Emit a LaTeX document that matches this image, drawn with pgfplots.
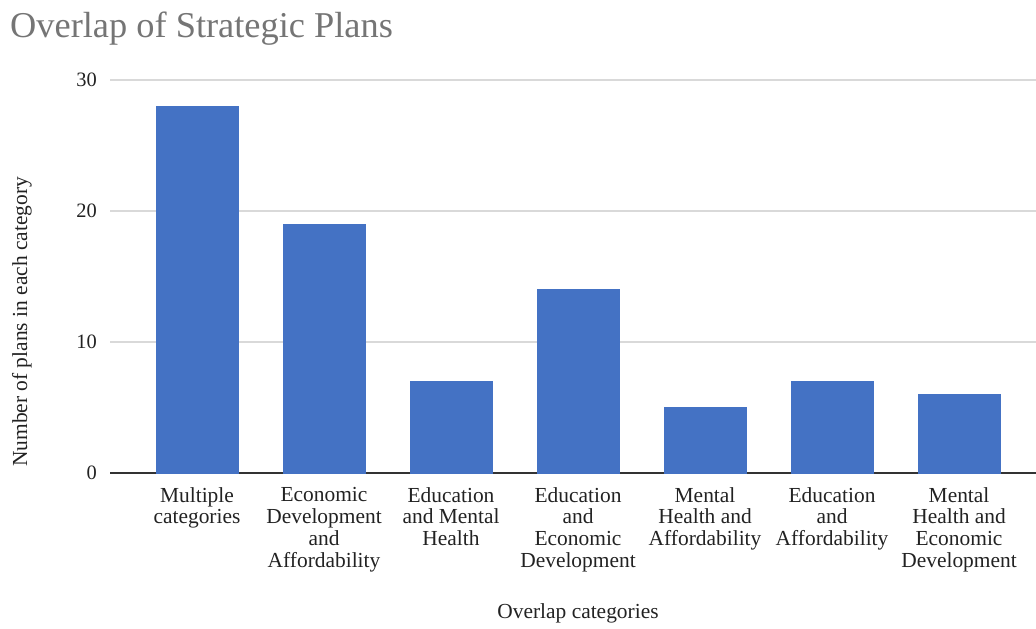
\documentclass[border=0pt]{standalone}
\usepackage{pgfplots}
\pgfplotsset{compat=1.18}
\usepackage{fontspec}
\setmainfont{Liberation Serif}
\definecolor{barblue}{HTML}{4472C4}
\definecolor{titlegray}{HTML}{757575}
\definecolor{gridgray}{HTML}{D9D9D9}
\definecolor{txt}{HTML}{222222}
\begin{document}
\begin{tikzpicture}[x=1bp,y=1bp]
\path[use as bounding box] (0,0) rectangle (1036,629);
\node[anchor=base west, text=titlegray, inner sep=0pt, font=\fontsize{36.5}{40}\selectfont] at (10,591) {Overlap of Strategic Plans};
\begin{axis}[
  at={(110bp,156bp)}, anchor=south west,
  scale only axis,
  width=926bp, height=393bp,
  xmin=-0.685, xmax=6.606,
  ymin=0, ymax=30,
  ytick={0,10,20,30},
  xtick={0,1,2,3,4,5,6},
  xticklabels={
    {Multiple\\categories},
    {Economic\\Development\\and\\Affordability},
    {Education\\and Mental\\Health},
    {Education\\and\\Economic\\Development},
    {Mental\\Health and\\Affordability},
    {Education\\and\\Affordability},
    {Mental\\Health and\\Economic\\Development}},
  xticklabel style={align=center, anchor=north, inner sep=0pt, yshift=-14bp, text=txt, font=\fontsize{21.5}{22}\selectfont},
  yticklabel style={text=txt, anchor=east, inner sep=0pt, font=\fontsize{20.5}{22}\selectfont, xshift=-13bp},
  /pgf/number format/assume math mode=true,
  major tick length=0pt,
  axis line style={draw=none},
  ymajorgrids,
  grid style={gridgray, line width=1.3bp},
  extra y ticks={0},
  extra y tick labels={},
  extra y tick style={grid style={black!80, line width=1.3bp}},
  ybar, bar width=82bp,
  clip=false,
]
\addplot[fill=barblue, draw=barblue, bar shift=0pt] coordinates {(0,28) (1,19) (2,7) (3,14) (4,5) (5,7) (6,6)};
\end{axis}
\node[text=txt, font=\fontsize{21.5}{22}\selectfont, rotate=90] at (22,307) {Number of plans in each category};
\node[text=txt, font=\fontsize{21.5}{22}\selectfont] at (578,16) {Overlap categories};
\end{tikzpicture}
\end{document}
